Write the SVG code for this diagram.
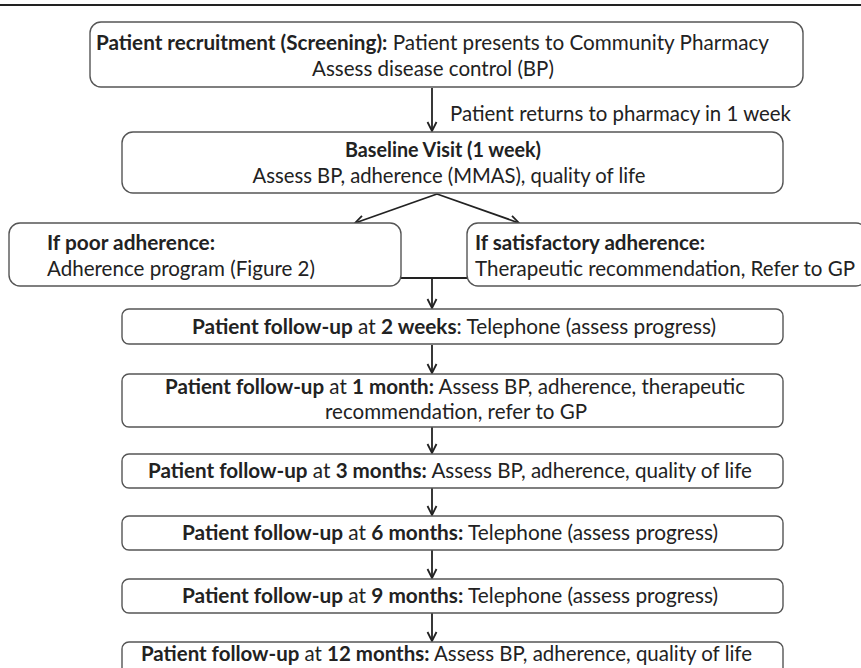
<svg xmlns="http://www.w3.org/2000/svg" width="861" height="668" viewBox="0 0 861 668">
<defs>
<marker id="ah" markerWidth="12" markerHeight="12" refX="10" refY="6" orient="auto" markerUnits="userSpaceOnUse">
<path d="M1,1.5 L10,6 L1,10.5" fill="none" stroke="#222" stroke-width="1.8"/>
</marker>
<style>
.box{fill:#fff;stroke:#555;stroke-width:1.4}
.t{font-family:Lato,"Liberation Sans",sans-serif;font-size:20.5px;fill:#222}
.m{text-anchor:middle}
.b{font-weight:bold}
.c{stroke:#222;stroke-width:1.8;fill:none}
</style>
</defs>
<rect width="861" height="668" fill="#fff"/>
<line x1="0" y1="5" x2="861" y2="5" stroke="#222" stroke-width="2"/>

<g id="connectors">
<line class="c" x1="432" y1="88" x2="432" y2="131" marker-end="url(#ah)"/>
<line class="c" x1="437" y1="194" x2="355" y2="223" marker-end="url(#ah)"/>
<line class="c" x1="437" y1="194" x2="519" y2="223" marker-end="url(#ah)"/>
<line class="c" x1="401" y1="278" x2="467" y2="278"/>
<line class="c" x1="432" y1="278" x2="432" y2="308" marker-end="url(#ah)"/>
<line class="c" x1="432" y1="345" x2="432" y2="373" marker-end="url(#ah)"/>
<line class="c" x1="432" y1="427" x2="432" y2="453" marker-end="url(#ah)"/>
<line class="c" x1="432" y1="488" x2="432" y2="515" marker-end="url(#ah)"/>
<line class="c" x1="432" y1="550" x2="432" y2="578" marker-end="url(#ah)"/>
<line class="c" x1="432" y1="613" x2="432" y2="641" marker-end="url(#ah)"/>
<text class="t" x="450" y="121" textLength="341" lengthAdjust="spacingAndGlyphs">Patient returns to pharmacy in 1 week</text>
</g>

<g id="screening">
<rect class="box" x="90" y="22" width="713" height="65" rx="11"/>
<text class="t" x="96" y="50" textLength="673" lengthAdjust="spacingAndGlyphs"><tspan class="b">Patient recruitment (Screening):</tspan> Patient presents to Community Pharmacy</text>
<text class="t m" x="433" y="76">Assess disease control (BP)</text>
</g>

<g id="baseline">
<rect class="box" x="122" y="132" width="661" height="61" rx="11"/>
<text class="t b m" x="443" y="157" textLength="196" lengthAdjust="spacingAndGlyphs">Baseline Visit (1 week)</text>
<text class="t m" x="449" y="183" textLength="393" lengthAdjust="spacingAndGlyphs">Assess BP, adherence (MMAS), quality of life</text>
</g>

<g id="poor">
<rect class="box" x="9" y="223" width="392" height="63" rx="11"/>
<text class="t b" x="47" y="250" textLength="168" lengthAdjust="spacingAndGlyphs">If poor adherence:</text>
<text class="t" x="47" y="276" textLength="268" lengthAdjust="spacingAndGlyphs">Adherence program (Figure 2)</text>
</g>

<g id="satisfactory">
<rect class="box" x="467" y="223" width="400" height="63" rx="11"/>
<text class="t b" x="475" y="250" textLength="230" lengthAdjust="spacingAndGlyphs">If satisfactory adherence:</text>
<text class="t" x="475" y="276" textLength="380" lengthAdjust="spacingAndGlyphs">Therapeutic recommendation, Refer to GP</text>
</g>

<g id="fu2w">
<rect class="box" x="122" y="309" width="661" height="35" rx="7"/>
<text class="t" x="192" y="334" textLength="524" lengthAdjust="spacingAndGlyphs"><tspan class="b">Patient follow-up</tspan> at <tspan class="b">2 weeks</tspan>: Telephone (assess progress)</text>
</g>

<g id="fu1m">
<rect class="box" x="122" y="374" width="661" height="53" rx="7"/>
<text class="t" x="165" y="394" textLength="580" lengthAdjust="spacingAndGlyphs"><tspan class="b">Patient follow-up</tspan> at <tspan class="b">1 month:</tspan> Assess BP, adherence, therapeutic</text>
<text class="t" x="325" y="419" textLength="262" lengthAdjust="spacingAndGlyphs">recommendation, refer to GP</text>
</g>

<g id="fu3m">
<rect class="box" x="122" y="454" width="661" height="34" rx="7"/>
<text class="t" x="148" y="478" textLength="604" lengthAdjust="spacingAndGlyphs"><tspan class="b">Patient follow-up</tspan> at <tspan class="b">3 months:</tspan> Assess BP, adherence, quality of life</text>
</g>

<g id="fu6m">
<rect class="box" x="122" y="516" width="661" height="34" rx="7"/>
<text class="t" x="182" y="540" textLength="536" lengthAdjust="spacingAndGlyphs"><tspan class="b">Patient follow-up</tspan> at <tspan class="b">6 months:</tspan> Telephone (assess progress)</text>
</g>

<g id="fu9m">
<rect class="box" x="122" y="579" width="661" height="34" rx="7"/>
<text class="t" x="182" y="603" textLength="536" lengthAdjust="spacingAndGlyphs"><tspan class="b">Patient follow-up</tspan> at <tspan class="b">9 months:</tspan> Telephone (assess progress)</text>
</g>

<g id="fu12m">
<rect class="box" x="122" y="642" width="661" height="34" rx="7"/>
<text class="t" x="141" y="661" textLength="611" lengthAdjust="spacingAndGlyphs"><tspan class="b">Patient follow-up</tspan> at <tspan class="b">12 months:</tspan> Assess BP, adherence, quality of life</text>
</g>
</svg>
